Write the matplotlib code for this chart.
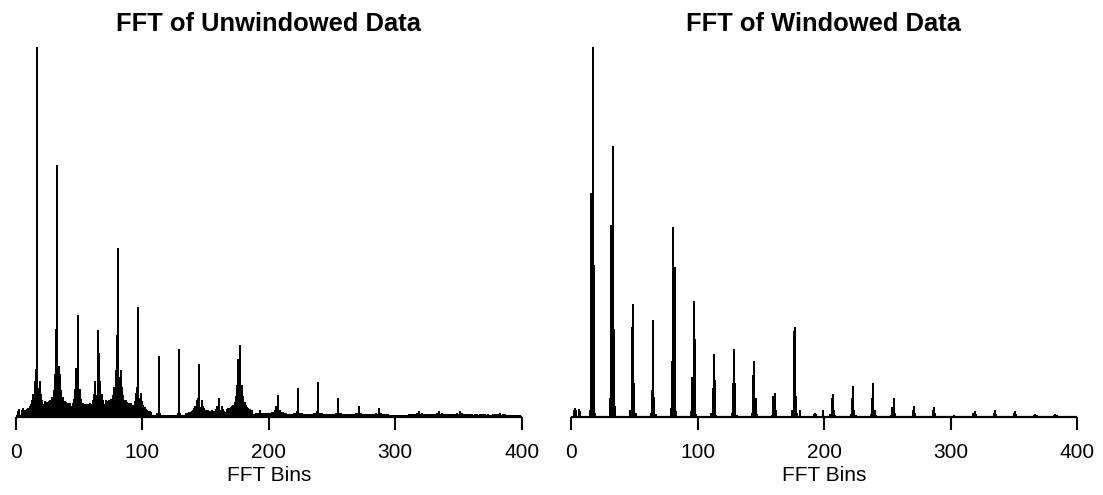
import numpy as np
import matplotlib as mpl
mpl.use('Agg')
import matplotlib.pyplot as plt

plt.rcParams['font.family'] = ['Liberation Sans', 'DejaVu Sans']

# Spectrum values (relative to the tallest spike = 1)
n_bins = 400
peak_bins = [17, 33, 49, 65, 81, 97, 113, 129, 145, 161, 177, 193,
             207, 223, 239, 255, 271, 287, 303, 319, 335, 351, 367, 383]

# unwindowed: spike, bin below, bin above, leakage skirt level
unwin_peak = [1.0, 0.681, 0.276, 0.235, 0.456, 0.296, 0.165, 0.183, 0.142, 0.052, 0.195, 0.02,
              0.059, 0.077, 0.094, 0.05, 0.03, 0.025, 0.006, 0.015, 0.016, 0.015, 0.008, 0.01]
unwin_left = [0.13, 0.237, 0.131, 0.06, 0.222, 0.082, 0.01, 0.01, 0.05, 0.019, 0.156, 0.01,
              0.03, 0.015, 0.015, 0.012, 0.01, 0.008, 0.004, 0.01, 0.01, 0.008, 0.006, 0.006]
unwin_right = [0.078, 0.138, 0.06, 0.174, 0.109, 0.05, 0.01, 0.01, 0.028, 0.019, 0.06, 0.01,
               0.015, 0.01, 0.01, 0.01, 0.008, 0.008, 0.004, 0.008, 0.008, 0.008, 0.006, 0.006]
unwin_skirt = [0.09, 0.11, 0.07, 0.09, 0.12, 0.06, 0.0, 0.0, 0.04, 0.025, 0.08, 0.006,
               0.014, 0.006, 0.006, 0.005, 0.004, 0.004, 0.0, 0.005, 0.005, 0.004, 0.002, 0.002]
# skirt profile at offsets 2..10 from a spike
skirt_shape = [1.0, 0.62, 0.44, 0.33, 0.26, 0.21, 0.17, 0.15, 0.13]
unwin_floor = 0.006
unwin_low_bins = [2, 3, 5, 6, 8, 10, 12, 14]
unwin_low_vals = [0.015, 0.022, 0.018, 0.024, 0.012, 0.02, 0.03, 0.045]

# windowed: spike, bin below, bin above, second ring
win_peak = [1.0, 0.731, 0.305, 0.262, 0.512, 0.312, 0.17, 0.183, 0.152, 0.064, 0.244, 0.01,
            0.061, 0.084, 0.091, 0.052, 0.029, 0.028, 0.006, 0.016, 0.019, 0.016, 0.008, 0.008]
win_left = [0.605, 0.519, 0.242, 0.072, 0.15, 0.107, 0.078, 0.093, 0.113, 0.057, 0.231, 0.008,
            0.05, 0.052, 0.05, 0.027, 0.02, 0.02, 0.004, 0.01, 0.012, 0.01, 0.006, 0.006]
win_right = [0.41, 0.237, 0.091, 0.055, 0.405, 0.21, 0.1, 0.093, 0.052, 0.02, 0.057, 0.008,
             0.02, 0.02, 0.02, 0.01, 0.01, 0.01, 0.004, 0.008, 0.008, 0.008, 0.005, 0.005]
win_ring = [0.02, 0.05, 0.02, 0.012, 0.025, 0.015, 0.01, 0.01, 0.012, 0.006, 0.02, 0.004,
            0.008, 0.008, 0.008, 0.005, 0.004, 0.004, 0.0, 0.004, 0.004, 0.004, 0.0, 0.0]
win_floor = 0.004
win_low_bins = [2, 3, 4, 6, 7, 181, 192, 199]
win_low_vals = [0.018, 0.024, 0.02, 0.022, 0.015, 0.019, 0.016, 0.018]

xticks = [0, 100, 200, 300, 400]


def build_unwindowed():
    spec = np.full(n_bins, unwin_floor)
    for k, s in zip(peak_bins, unwin_skirt):
        for i, rel in enumerate(skirt_shape):
            off = i + 2
            for b in (k - off, k + off):
                if 0 <= b < n_bins:
                    spec[b] += s * rel
    for b, v in zip(unwin_low_bins, unwin_low_vals):
        spec[b] = max(spec[b], v)
    for k, p, l, r in zip(peak_bins, unwin_peak, unwin_left, unwin_right):
        spec[k] = p
        spec[k - 1] = max(spec[k - 1], l)
        spec[k + 1] = max(spec[k + 1], r)
    return spec


def build_windowed():
    spec = np.full(n_bins, win_floor)
    for b, v in zip(win_low_bins, win_low_vals):
        spec[b] = v
    for k, p, l, r, g in zip(peak_bins, win_peak, win_left, win_right, win_ring):
        spec[k] = p
        spec[k - 1] = l
        spec[k + 1] = r
        spec[k - 2] = max(spec[k - 2], g)
        spec[k + 2] = max(spec[k + 2], g * 0.6)
    return spec


bins = np.arange(n_bins)
panels = [("FFT of Unwindowed Data", build_unwindowed()),
          ("FFT of Windowed Data", build_windowed())]

fig = plt.figure(figsize=(11.03, 4.95), dpi=100)
lefts = [15.7 / 1103, 571 / 1103]
width = 506 / 1103
bottom = (495 - 417) / 495
height = (417 - 46.7) / 495

for left, (title, spec) in zip(lefts, panels):
    ax = fig.add_axes([left, bottom, width, height])
    ax.vlines(bins, 0, spec, colors='black', lw=1.45)
    ax.set_xlim(0, 400)
    ax.set_ylim(0, 1.0)
    for side in ['left', 'right', 'top']:
        ax.spines[side].set_visible(False)
    ax.spines['bottom'].set_linewidth(1.6)
    ax.spines['bottom'].set_capstyle('butt')
    ax.set_yticks([])
    ax.set_xticks(xticks)
    ax.tick_params(axis='x', length=9.5, width=1.5, pad=9, labelsize=15)
    ax.set_xlabel('FFT Bins', fontsize=15, labelpad=3)
    ax.set_title(title, fontsize=18.4, fontweight='bold', pad=11)

plt.savefig('out.png', dpi=100)
